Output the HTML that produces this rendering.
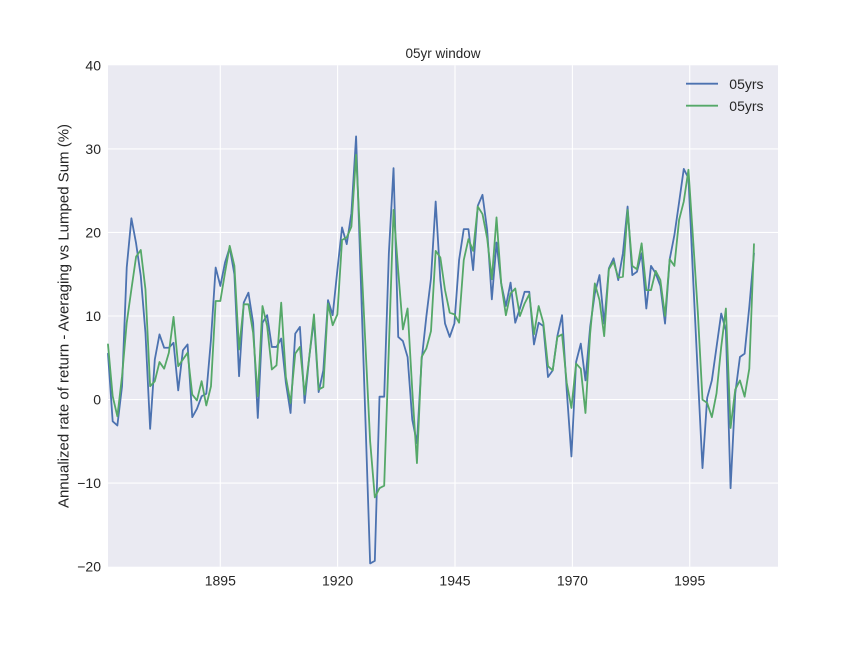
<!DOCTYPE html>
<html>
<head>
<meta charset="utf-8">
<style>
  html, body { margin: 0; padding: 0; background: #ffffff; }
  svg { display: block; }
  text { font-family: "Liberation Sans", "DejaVu Sans", sans-serif; fill: #262626; }
</style>
</head>
<body>
<svg width="864" height="648" viewBox="0 0 864 648" xmlns="http://www.w3.org/2000/svg">
  <rect x="0" y="0" width="864" height="648" fill="#ffffff"/>
  <!-- plot background -->
  <rect x="108" y="65.3" width="670" height="501.4" fill="#EAEAF2"/>
  <!-- horizontal gridlines -->
  <g stroke="#ffffff" stroke-width="1.1">
    <line x1="108" x2="778" y1="148.9" y2="148.9"/>
    <line x1="108" x2="778" y1="232.4" y2="232.4"/>
    <line x1="108" x2="778" y1="316.0" y2="316.0"/>
    <line x1="108" x2="778" y1="399.6" y2="399.6"/>
    <line x1="108" x2="778" y1="483.1" y2="483.1"/>
    <!-- vertical gridlines -->
    <line x1="220.3" x2="220.3" y1="65.3" y2="566.7"/>
    <line x1="337.6" x2="337.6" y1="65.3" y2="566.7"/>
    <line x1="455.0" x2="455.0" y1="65.3" y2="566.7"/>
    <line x1="572.4" x2="572.4" y1="65.3" y2="566.7"/>
    <line x1="689.7" x2="689.7" y1="65.3" y2="566.7"/>
  </g>

  <!-- series -->
  <g transform="translate(108,399.6) scale(4.681,-8.357)" fill="none" stroke-linejoin="round" stroke-linecap="round">
    <polyline vector-effect="non-scaling-stroke" stroke="#4C72B0" stroke-width="1.8" points="
0,5.5 1,-2.6 2,-3.1 3,1.6 4,15.8 5,21.7 6,18.7 7,14.8 8,8.0 9,-3.5
10,4.8 11,7.8 12,6.2 13,6.2 14,6.8 15,1.1 16,5.9 17,6.6 18,-2.1 19,-1.1
20,0.4 21,0.7 22,7.2 23,15.8 24,13.6 25,16.4 26,18.2 27,15.0 28,2.8 29,11.6
30,12.8 31,9.2 32,-2.2 33,9.2 34,10.1 35,6.3 36,6.3 37,7.3 38,2.0 39,-1.6
40,7.9 41,8.7 42,-0.4 43,5.1 44,9.6 45,0.9 46,3.5 47,11.9 48,10.1 49,15.5
50,20.6 51,18.6 52,22.3 53,31.5 54,14.5 55,-2.5 56,-19.6 57,-19.3 58,0.35 59,0.35
60,17.5 61,27.7 62,7.5 63,7.0 64,5.1 65,-2.4 66,-5.2 67,4.7 68,9.9 69,14.5
70,23.7 71,14.3 72,9.1 73,7.5 74,9.1 75,16.7 76,20.4 77,20.4 78,15.5 79,23.2
80,24.5 81,20.3 82,12.0 83,18.8 84,13.9 85,11.2 86,14.0 87,9.2 88,10.9 89,12.9
90,12.9 91,6.6 92,9.2 93,8.8 94,2.7 95,3.5 96,7.6 97,10.1 98,1.1 99,-6.8
100,4.5 101,6.7 102,2.3 103,8.7 104,12.7 105,14.9 106,9.1 107,15.7 108,16.9 109,14.3
110,17.5 111,23.1 112,14.9 113,15.3 114,17.5 115,10.9 116,16.0 117,15.1 118,13.6 119,9.1
120,16.8 121,19.7 122,23.6 123,27.6 124,26.5 125,14.5 126,3.0 127,-8.2 128,0.2 129,2.3
130,6.3 131,10.3 132,8.3 133,-10.6 134,0.75 135,5.1 136,5.5 137,11.1 138,17.5"/>
    <polyline vector-effect="non-scaling-stroke" stroke="#55A868" stroke-width="1.8" points="
0,6.6 1,0.4 2,-2.0 3,2.8 4,9.2 5,13.2 6,17.1 7,17.9 8,13.2 9,1.6
10,2.2 11,4.5 12,3.7 13,5.6 14,9.9 15,4.0 16,4.8 17,5.6 18,0.6 19,-0.1
20,2.2 21,-0.7 22,1.6 23,11.8 24,11.8 25,15.2 26,18.4 27,16.0 28,6.0 29,11.4
30,11.4 31,8.0 32,0.4 33,11.2 34,8.8 35,3.6 36,4.1 37,11.6 38,2.7 39,-0.4
40,5.5 41,6.3 42,0.6 43,5.1 44,10.2 45,1.2 46,1.5 47,11.5 48,8.9 49,10.2
50,19.1 51,19.4 52,20.7 53,29.3 54,18 55,6.5 56,-5 57,-11.7 58,-10.6 59,-10.3
60,6.2 61,22.7 62,15.4 63,8.4 64,10.9 65,1.1 66,-7.6 67,5.1 68,6.1 69,8.2
70,17.8 71,17.0 72,13.1 73,10.4 74,10.2 75,9.2 76,16.7 77,19.2 78,17.8 79,23.1
80,22.2 81,19.3 82,14.4 83,21.8 84,13.9 85,10.1 86,12.7 87,13.3 88,10.0 89,11.5
90,12.6 91,7.8 92,11.2 93,9.2 94,4.0 95,3.5 96,7.5 97,7.8 98,2.0 99,-1.0
100,4.3 101,3.7 102,-1.6 103,7.9 104,13.9 105,11.9 106,7.6 107,15.6 108,16.5 109,14.6
110,14.7 111,22.7 112,16.0 113,15.6 114,18.7 115,13.1 116,13.1 117,15.4 118,14.3 119,10.0
120,16.8 121,16.0 122,21.5 123,23.7 124,27.5 125,19.1 126,10.5 127,0 128,-0.4 129,-2.1
130,0.75 131,6.3 132,10.9 133,-3.4 134,1.2 135,2.3 136,0.35 137,3.7 138,18.6"/>
  </g>

  <!-- y tick labels -->
  <g font-size="14" text-anchor="end">
    <text x="101" y="70.3">40</text>
    <text x="101" y="153.9">30</text>
    <text x="101" y="237.4">20</text>
    <text x="101" y="321.0">10</text>
    <text x="101" y="404.6">0</text>
    <text x="101" y="488.1">−10</text>
    <text x="101" y="571.7">−20</text>
  </g>
  <!-- x tick labels -->
  <g font-size="14" text-anchor="middle">
    <text x="220.3" y="585.7">1895</text>
    <text x="337.6" y="585.7">1920</text>
    <text x="455.0" y="585.7">1945</text>
    <text x="572.4" y="585.7">1970</text>
    <text x="689.7" y="585.7">1995</text>
  </g>

  <!-- title -->
  <text x="443" y="58" font-size="13.5" text-anchor="middle">05yr window</text>

  <!-- y axis label -->
  <text transform="translate(68.5,316) rotate(-90)" font-size="15" text-anchor="middle">Annualized rate of return - Averaging vs Lumped Sum (%)</text>

  <!-- legend -->
  <line x1="686" x2="718" y1="83.7" y2="83.7" stroke="#4C72B0" stroke-width="1.8"/>
  <line x1="686" x2="718" y1="105.7" y2="105.7" stroke="#55A868" stroke-width="1.8"/>
  <text x="729.3" y="89" font-size="14">05yrs</text>
  <text x="729.3" y="111" font-size="14">05yrs</text>
</svg>
</body>
</html>
